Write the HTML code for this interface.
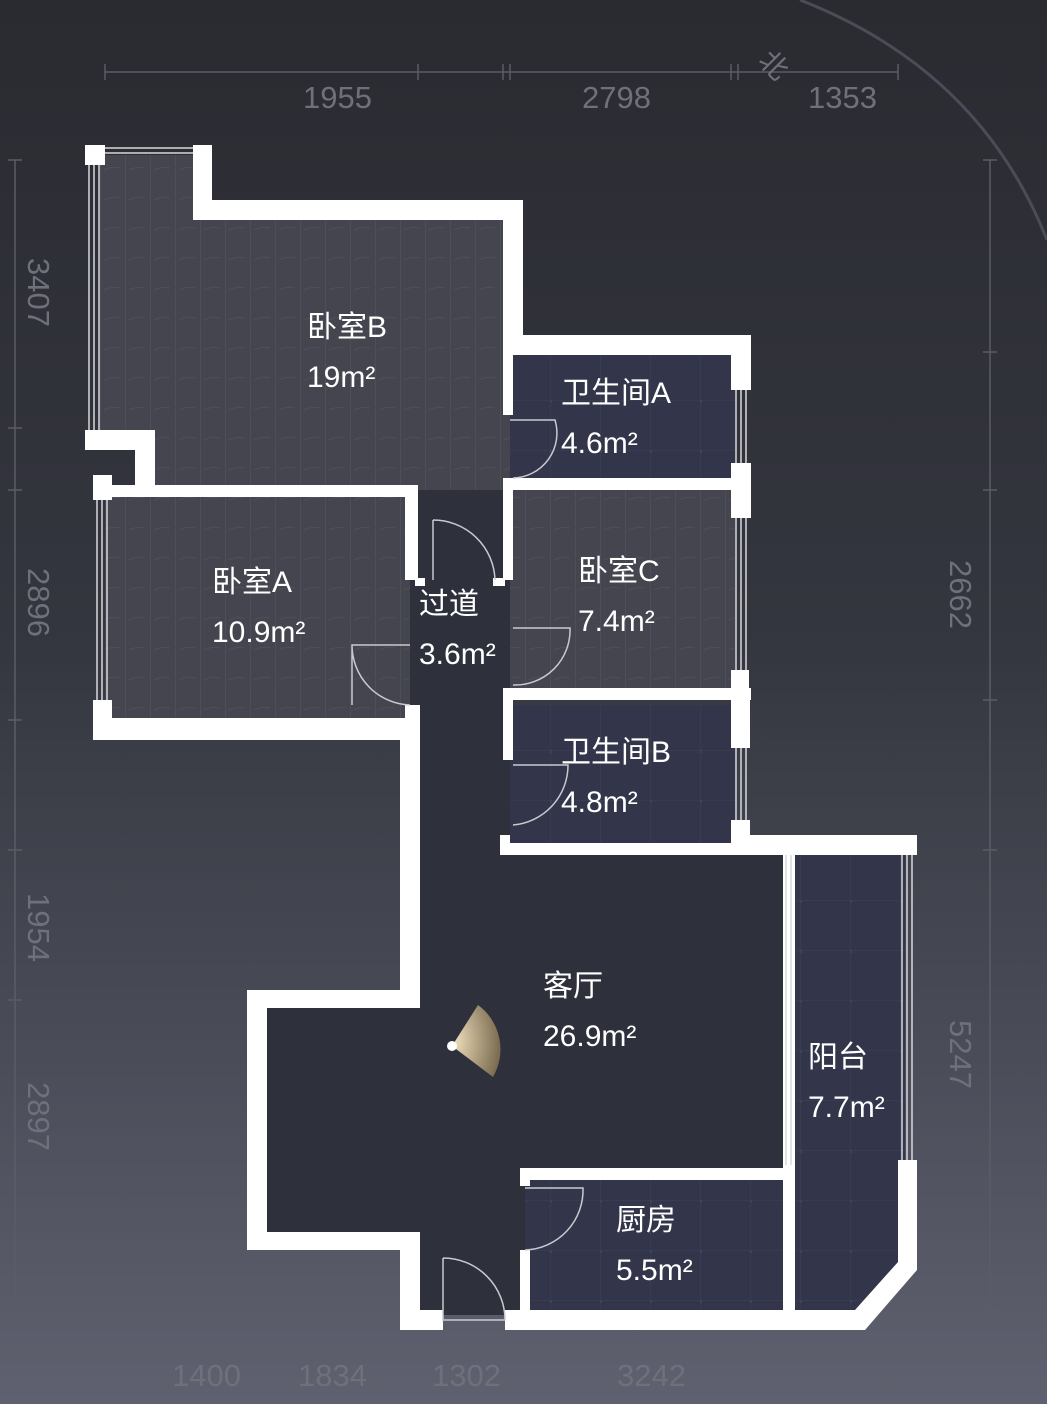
<!DOCTYPE html>
<html><head><meta charset="utf-8"><style>
html,body{margin:0;padding:0;}
body{width:1047px;height:1404px;overflow:hidden;background:linear-gradient(180deg,#2a2b31 0%,#34363f 45%,#4a4c58 75%,#5f6170 100%);}
svg{display:block;font-family:"Liberation Sans","Noto Sans CJK SC",sans-serif;}
</style></head><body>
<svg width="1047" height="1404" viewBox="0 0 1047 1404">
<defs>
<pattern id="wood" width="25" height="60" patternUnits="userSpaceOnUse">
<rect width="25" height="60" fill="#44454f"/><line x1="0" y1="0" x2="0" y2="60" stroke="#555661" stroke-width="1"/>
<path d="M4 20 q8 -4 16 -2 M4 50 q8 -4 16 -2" stroke="#4e4f5a" fill="none"/>
</pattern>
<pattern id="tile" width="50" height="50" patternUnits="userSpaceOnUse">
<rect width="50" height="50" fill="#33364a"/><path d="M0 0H50M0 0V50" stroke="#3e4157" stroke-width="1"/>
<rect x="-2" y="-3" width="4" height="6" fill="#3f4258"/>
</pattern>
<radialGradient id="cam" cx="0" cy="0.5" r="1"><stop offset="0" stop-color="#f3e3c0"/><stop offset="1" stop-color="#7a6a4f"/></radialGradient>
</defs>
<path d="M800 0 Q980 70 1047 240" stroke="#4a4c57" stroke-width="3" fill="none"/>
<polygon points="100,155 200,155 200,215 513,215 513,490 145,490 145,440 100,440" fill="url(#wood)"/>
<rect x="105" y="495" width="305" height="225" fill="url(#wood)"/>
<rect x="510" y="490" width="225" height="205" fill="url(#wood)"/>
<polygon points="410,490 510,490 510,850 790,850 790,1170 525,1170 525,1315 420,1315 420,1240 265,1240 265,1000 410,1000" fill="#2e313b"/>
<rect x="510" y="350" width="225" height="135" fill="url(#tile)"/>
<rect x="510" y="705" width="225" height="145" fill="url(#tile)"/>
<rect x="525" y="1175" width="265" height="140" fill="url(#tile)"/>
<polygon points="790,850 905,850 905,1265 860,1315 790,1315" fill="url(#tile)"/>
<g fill="#fff">
<rect x="85" y="145" width="20" height="20"/>
<rect x="193" y="145" width="19" height="75"/>
<rect x="193" y="200" width="330" height="20"/>
<rect x="503" y="200" width="20" height="150"/>
<rect x="503" y="335" width="248" height="20"/>
<rect x="731" y="335" width="20" height="55"/>
<rect x="731" y="463" width="20" height="55"/>
<rect x="503" y="350" width="10" height="65"/>
<rect x="503" y="478" width="248" height="12"/>
<rect x="503" y="485" width="10" height="95"/>
<rect x="731" y="670" width="18" height="50"/>
<rect x="503" y="688" width="248" height="12"/>
<rect x="503" y="700" width="10" height="60"/>
<rect x="731" y="700" width="19" height="48"/>
<rect x="731" y="820" width="19" height="25"/>
<rect x="500" y="835" width="10" height="20"/>
<rect x="500" y="843" width="295" height="12"/>
<rect x="731" y="835" width="186" height="20"/>
<rect x="898" y="835" width="19" height="20"/>
<polygon points="898,1160 917,1160 917,1270 865,1330 855,1310 898,1262"/>
<rect x="505" y="1310" width="360" height="20"/>
<rect x="783" y="845" width="12" height="470"/>
<rect x="520" y="1168" width="270" height="12"/>
<rect x="520" y="1168" width="10" height="18"/>
<rect x="520" y="1250" width="10" height="65"/>
<rect x="400" y="1310" width="43" height="20"/>
<rect x="400" y="1232" width="20" height="98"/>
<rect x="247" y="1232" width="173" height="18"/>
<rect x="247" y="990" width="20" height="260"/>
<rect x="247" y="990" width="173" height="18"/>
<rect x="400" y="720" width="20" height="288"/>
<rect x="93" y="718" width="327" height="22"/>
<rect x="93" y="700" width="19" height="40"/>
<rect x="93" y="475" width="19" height="25"/>
<rect x="93" y="485" width="325" height="12"/>
<rect x="405" y="485" width="13" height="95"/>
<rect x="405" y="705" width="15" height="20"/>
<rect x="85" y="430" width="70" height="20"/>
<rect x="135" y="430" width="20" height="65"/>
<rect x="415" y="578" width="10" height="8"/>
<rect x="493" y="578" width="12" height="8"/>
</g>
<g stroke="#d8d8dc" stroke-width="1.5" fill="none">
<path d="M89 165V430M94 165V430M99 165V430"/>
<path d="M105 148H193M105 153H193"/>
<path d="M736 390V463M741 390V463M746 390V463"/>
<path d="M736 518V670M741 518V670M746 518V670"/>
<path d="M736 748V820M741 748V820M746 748V820"/>
<path d="M97 500V700M102 500V700M107 500V700"/>
<path d="M902 855V1160M907 855V1160M912 855V1160"/>
<path d="M786 855V1165M791 855V1165"/>
</g>
<g stroke="#c9c9cf" stroke-width="1.5" fill="none">
<path d="M510 420H555A45 45 0 0 1 513 478"/>
<path d="M433 520V580M433 520A62 62 0 0 1 495 580"/>
<path d="M513 628H570A55 55 0 0 1 513 685"/>
<path d="M410 645H352V705M352 645A60 60 0 0 0 410 705"/>
<path d="M513 765H568A60 60 0 0 1 513 825"/>
<path d="M525 1188H583A60 60 0 0 1 525 1250"/>
<path d="M443 1258V1320H505M443 1258A62 62 0 0 1 505 1320"/>
</g>
<path d="M452 1046 L478 1005 A55 55 0 0 1 493 1077 Z" fill="url(#cam)"/>
<circle cx="452" cy="1046" r="5" fill="#fff"/>
<g fill="#fff" font-size="30">
<text x="307" y="337">卧室B</text><text x="307" y="387">19m²</text>
<text x="561" y="403">卫生间A</text><text x="561" y="453">4.6m²</text>
<text x="212" y="592">卧室A</text><text x="212" y="642">10.9m²</text>
<text x="578" y="581">卧室C</text><text x="578" y="631">7.4m²</text>
<text x="419" y="614">过道</text><text x="419" y="664">3.6m²</text>
<text x="561" y="762">卫生间B</text><text x="561" y="812">4.8m²</text>
<text x="543" y="996">客厅</text><text x="543" y="1046">26.9m²</text>
<text x="808" y="1067">阳台</text><text x="808" y="1117">7.7m²</text>
<text x="616" y="1230">厨房</text><text x="616" y="1280">5.5m²</text>
</g>
<g stroke="#5a5c66" stroke-width="1.5" fill="none">
<path d="M105 72H898M105 64V80M418 64V80M503 64V80M510 64V80M731 64V80M738 64V80M898 64V80"/>
<path d="M15 160V1300M8 160H22M8 428H22M8 490H22M8 720H22M8 850H22M8 1000H22M8 1300H22"/>
<path d="M990 160V1310M983 160H997M983 352H997M983 490H997M983 700H997M983 850H997M983 1310H997"/>
</g>
<g fill="#6e707b" font-size="31">
<text x="303" y="108">1955</text><text x="582" y="108">2798</text><text x="808" y="108">1353</text>
<text x="172" y="1386">1400</text><text x="298" y="1386">1834</text><text x="432" y="1386">1302</text><text x="617" y="1386">3242</text>
</g>
<g fill="#6e707b" font-size="31">
<text transform="translate(28,258) rotate(90)">3407</text>
<text transform="translate(28,568) rotate(90)">2896</text>
<text transform="translate(28,893) rotate(90)">1954</text>
<text transform="translate(28,1082) rotate(90)">2897</text>
<text transform="translate(950,560) rotate(90)">2662</text>
<text transform="translate(950,1020) rotate(90)">5247</text>
<text transform="translate(757,62) rotate(45)" font-size="28">北</text>
</g>
</svg>
</body></html>
